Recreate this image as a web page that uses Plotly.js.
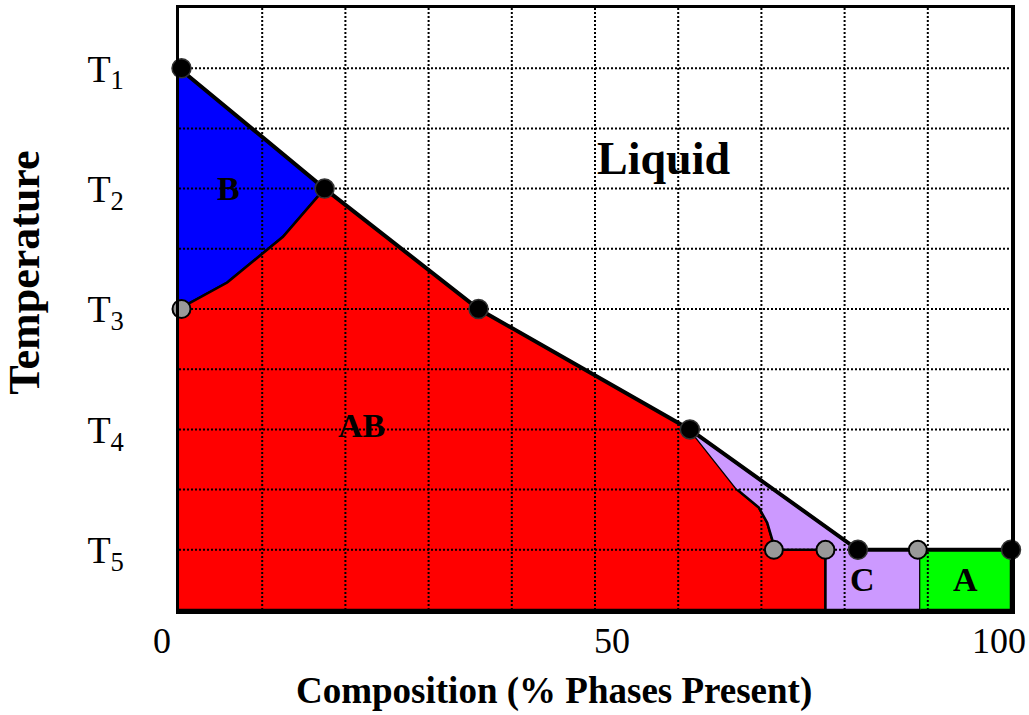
<!DOCTYPE html>
<html>
<head>
<meta charset="utf-8">
<script src="https://cdn.plot.ly/plotly-3.0.1.min.js"></script>
<style>
  body { margin: 0; background: #fff; }
  #phase { width: 1029px; height: 715px; }
</style>
</head>
<body>
<div id="phase"></div>
<script>
// liquidus line, T1 down to T5 and on to 100 %
const liquidusX = [0, 17.5, 36, 61.4, 81.6, 100];
const liquidusY = [9, 7, 5, 3, 1, 1];

// boundary between B and AB, from T2 down to the left edge at T3
const bAbX = [17.5, 12.5, 5.8, 0];
const bAbY = [7, 6.2, 5.44, 5];

// boundary between AB and C, from T4 down to T5
const abCX = [61.4, 67.1, 69.7, 70.7, 71.3, 71.5];
const abCY = [3, 2.0, 1.7, 1.45, 1.17, 1];

// edges of the phase columns below T5
const abEnd = 77.7;
const cEnd = 89.1;

// black points on the liquidus, grey points on the phase boundaries
const blackX = [0.3, 17.5, 36, 61.4, 81.6, 100];
const blackY = [9, 7, 5, 3, 1, 1];
const greyX = [0.3, 71.5, 77.7, 88.8];
const greyY = [5, 1, 1, 1];

// temperature tick labels
const tempVals = [1, 3, 5, 7, 9];
const tempText = ['T<sub>5</sub>', 'T<sub>4</sub>', 'T<sub>3</sub>', 'T<sub>2</sub>', 'T<sub>1</sub>'];

// composition labels under the axis
const compText = ['0', '50', '100'];
const compPos = [-0.02, 0.52, 0.986];

// phase labels
const phaseText = ['Liquid', 'B', 'AB', 'C', 'A'];
const phaseX = [58.2, 5.9, 21.9, 82.1, 94.5];
const phaseY = [7.5, 7.0, 3.07, 0.5, 0.5];
const phaseSize = [46, 34, 34, 34, 34];

const gridX = [10, 20, 30, 40, 50, 60, 70, 80, 90];
const gridY = [1, 2, 3, 4, 5, 6, 7, 8, 9];

const serif = 'Liberation Serif, Times New Roman, serif';

function rev(a) { return a.slice().reverse(); }

function region(x, y, color) {
    return {
        x: x, y: y,
        mode: 'lines',
        fill: 'toself',
        fillcolor: color,
        line: {color: 'black', width: 2.5},
        hoverinfo: 'skip'
    };
}

// B: liquidus T1..T2, then the B/AB boundary back to the left edge
const bX = [0, liquidusX[0], liquidusX[1]].concat(bAbX.slice(1));
const bY = [9, liquidusY[0], liquidusY[1]].concat(bAbY.slice(1));

// AB
const abX = rev(bAbX).concat(liquidusX.slice(2, 4), abCX.slice(1), [abEnd, abEnd, 0]);
const abY = rev(bAbY).concat(liquidusY.slice(2, 4), abCY.slice(1), [1, 0, 0]);

// C
const cX = [liquidusX[3], liquidusX[4], cEnd, cEnd, abEnd, abEnd].concat(rev(abCX).slice(0, -1));
const cY = [liquidusY[3], liquidusY[4], 1, 0, 0, 1].concat(rev(abCY).slice(0, -1));

// A
const aX = [cEnd, 100, 100, cEnd];
const aY = [0, 0, 1, 1];

let gx = [], gy = [];
for (let v of gridX) { gx.push(v, v, null); gy.push(0, 10, null); }
for (let v of gridY) { gx.push(0, 100, null); gy.push(v, v, null); }

const traces = [
    region(bX, bY, '#0000ff'),
    region(abX, abY, '#ff0000'),
    region(cX, cY, '#cc99ff'),
    region(aX, aY, '#00ff00'),
    {
        x: liquidusX, y: liquidusY,
        mode: 'lines',
        line: {color: 'black', width: 4},
        hoverinfo: 'skip'
    },
    {
        x: gx, y: gy,
        mode: 'lines',
        line: {color: 'black', width: 2, dash: '2px,2px'},
        hoverinfo: 'skip'
    },
    {
        x: greyX, y: greyY,
        mode: 'markers',
        marker: {size: 18, color: '#999999', line: {color: 'black', width: 2}},
        cliponaxis: false,
        hoverinfo: 'skip'
    },
    {
        x: blackX, y: blackY,
        mode: 'markers',
        marker: {size: 19, color: 'black', line: {color: '#333333', width: 1.5}},
        cliponaxis: false,
        hoverinfo: 'skip'
    }
];

let notes = [];
for (let i = 0; i < phaseText.length; i++) {
    notes.push({
        x: phaseX[i], y: phaseY[i],
        text: '<b>' + phaseText[i] + '</b>',
        showarrow: false,
        xanchor: 'center', yanchor: 'middle',
        font: {family: serif, size: phaseSize[i], color: 'black'}
    });
}
for (let i = 0; i < compText.length; i++) {
    notes.push({
        xref: 'paper', yref: 'paper',
        x: compPos[i], y: -0.051,
        xanchor: 'center', yanchor: 'middle',
        text: compText[i],
        showarrow: false,
        font: {family: serif, size: 36, color: 'black'}
    });
}
notes.push({
    xref: 'paper', yref: 'paper',
    x: 0.4507, y: -0.135,
    xanchor: 'center', yanchor: 'middle',
    text: '<b>Composition (% Phases Present)</b>',
    showarrow: false,
    font: {family: serif, size: 37, color: 'black'}
});
notes.push({
    xref: 'paper', yref: 'paper',
    x: -0.1857, y: 0.561,
    xanchor: 'center', yanchor: 'middle',
    text: '<b>Temperature</b>',
    textangle: -90,
    showarrow: false,
    font: {family: serif, size: 44, color: 'black'}
});

const layout = {
    width: 1029,
    height: 715,
    margin: {l: 179, r: 18, t: 8, b: 105},
    paper_bgcolor: 'white',
    plot_bgcolor: 'white',
    showlegend: false,
    hovermode: false,
    xaxis: {
        range: [0, 100],
        showgrid: false,
        zeroline: false,
        showticklabels: false,
        ticks: '',
        showline: true,
        mirror: true,
        linecolor: 'black',
        linewidth: 3.5
    },
    yaxis: {
        range: [0, 10],
        showgrid: false,
        zeroline: false,
        tickvals: tempVals,
        ticktext: tempText,
        ticks: '',
        ticklabelstandoff: 44,
        tickfont: {family: serif, size: 38, color: 'black'},
        showline: true,
        mirror: true,
        linecolor: 'black',
        linewidth: 3.5
    },
    annotations: notes
};

Plotly.newPlot('phase', traces, layout, {displayModeBar: false, staticPlot: true});
</script>
</body>
</html>
